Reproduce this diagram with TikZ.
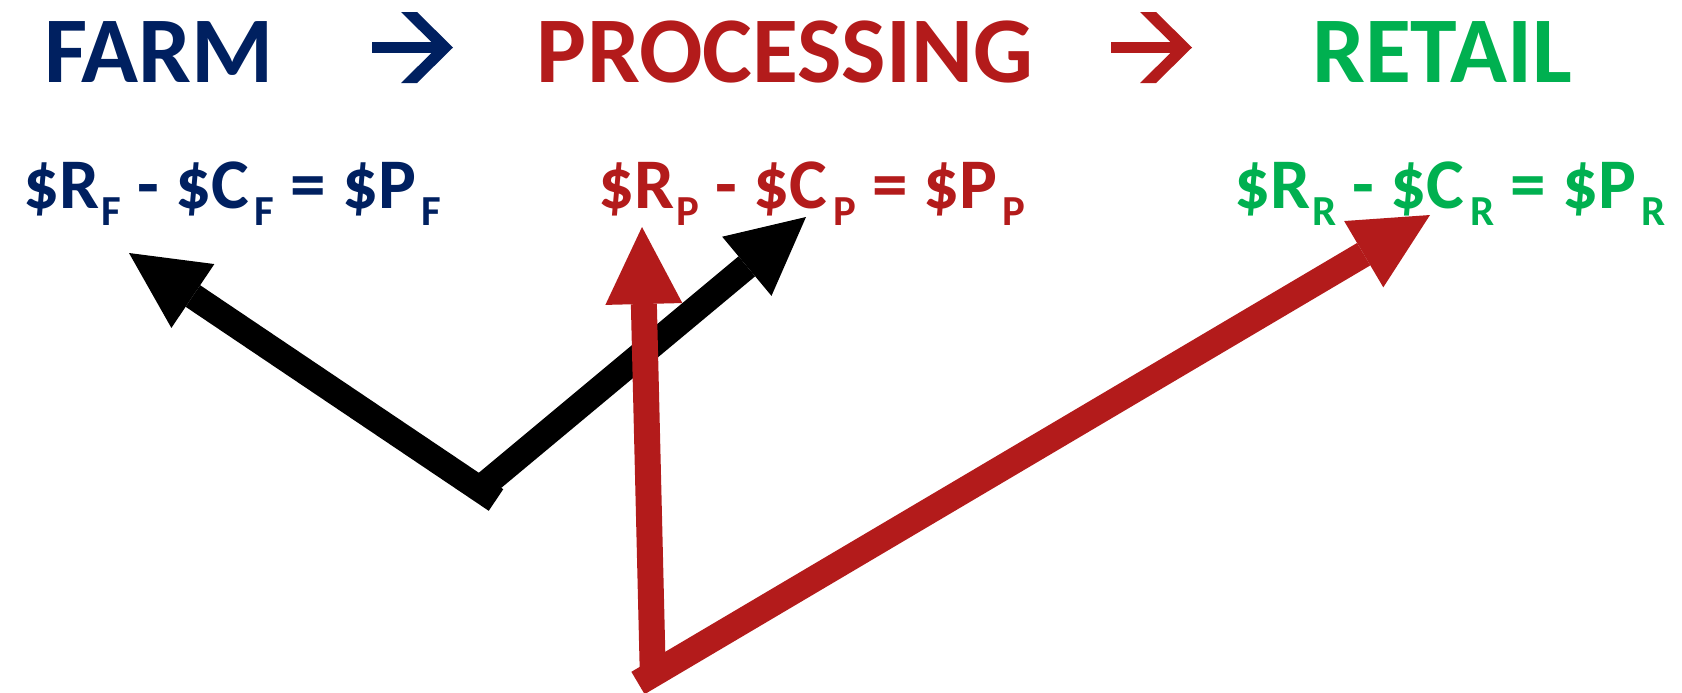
\documentclass[tikz,border=0pt]{standalone}
\usepackage{fontspec}
\newfontfamily\calfont{Carlito}
\usetikzlibrary{arrows.meta}
\definecolor{farmblue}{HTML}{002060}
\definecolor{procred}{HTML}{B31B1B}
\definecolor{retailgreen}{HTML}{00B050}
\newcommand{\eqsub}[2]{\kern#1\raisebox{-8.5pt}{\fontsize{21.4}{22}\selectfont #2}}
\tikzset{
  stage/.style={font=\calfont\bfseries\fontsize{47}{50}\selectfont, anchor=base, inner sep=0pt},
  profit/.style={font=\calfont\bfseries\fontsize{35.6}{38}\selectfont, anchor=base, inner sep=0pt},
  flow/.style={line width=13pt, -{Triangle[length=38.5pt,width=38.5pt,line width=0pt]}}
}

\begin{document}
\begin{tikzpicture}[x=0.5pt,y=-0.5pt]
\useasboundingbox (0,0) rectangle (1682,692);

% stages of the chain (top row)
\node[stage, text=farmblue] (farm) at (159,82) {FARM}; \node[stage,
text=procred] (proc) at (785,82) {PROCESSING}; \node[stage,
text=retailgreen] (retail) at (1442,82) {RETAIL};

% arrows between the stages
\fill[farmblue] (372,42) rectangle (440,53); \fill[farmblue] (401,12) --
(417,12) -- (453,47.5) -- (417,83) -- (401,83) -- (437,47.5) -- cycle;
\fill[procred] (1111,42) rectangle (1179,53); \fill[procred] (1140,12) --
(1156,12) -- (1192,47.5) -- (1156,83) -- (1140,83) -- (1176,47.5) -- cycle;

% profit of each stage (second row)
\node[profit, text=farmblue] (farmeq) at (232,208) {\$R\eqsub{1pt}{F} -
\$C\eqsub{3pt}{F} = \$P\eqsub{2.5pt}{F}}; \node[profit, text=procred] (proceq)
at (812,208) {\$R\eqsub{1pt}{P} - \$C\eqsub{3pt}{P} = \$P\eqsub{2.5pt}{P}};
\node[profit, text=retailgreen] (retaileq) at (1450,208) {\$R\eqsub{1pt}{R}
- \$C\eqsub{3pt}{R} = \$P\eqsub{2.5pt}{R}};

% money flows (black: farm, red: processing)
\coordinate (farmtail) at (496,500); \coordinate (farmtip) at (129,253);
\coordinate (proctail) at (482,487); \coordinate (proctip) at (806,217);
\coordinate (uptail) at (653,682); \coordinate (uptip) at (642,227);
\coordinate (retailtail) at (638,683); \coordinate (retailtip) at (1430,215);
\draw[flow] (proctail) -- (proctip); \draw[flow] (farmtail) -- (farmtip);
\draw[flow, procred] (uptail) -- (uptip); \draw[flow, procred] (retailtail)
-- (retailtip);
\end{tikzpicture}
\end{document}
